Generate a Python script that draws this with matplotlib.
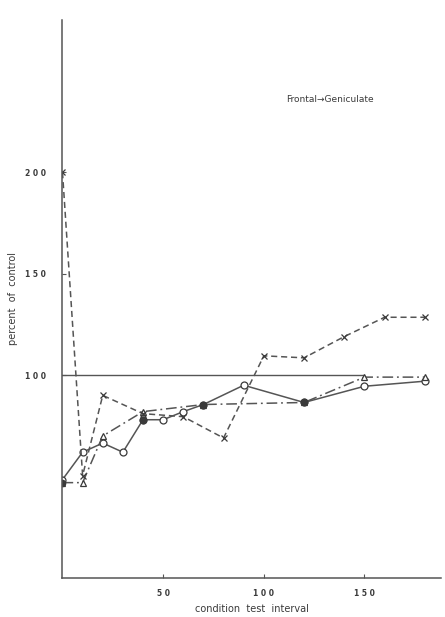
import numpy as np
import matplotlib
matplotlib.use("Agg")
import matplotlib.pyplot as plt

# condition-test interval vs percent of control
circ_x = [0, 10, 20, 30, 40, 50, 60, 70, 90, 120, 150, 180]
circ_y = [48.5, 62, 66.5, 62, 78, 78, 82, 85.5, 95, 86.5, 94.5, 97]

tri_x = [0, 10, 20, 40, 70, 120, 150, 180]
tri_y = [47, 47, 70, 82, 85.5, 86.5, 99, 99]

cross_x = [0, 10, 20, 40, 60, 80, 100, 120, 140, 160, 180]
cross_y = [200, 50.5, 90, 81, 79.5, 69, 109.5, 108.5, 119, 128.5, 128.5]

# points where circle and triangle curves coincide (drawn filled)
shared_x = [0, 40, 70, 120]
shared_y = [47, 78, 85.5, 86.5]

xticks = [50, 100, 150]
yticks = [100, 150, 200]

ink = "#3a3a3a"
line = "#555555"

fig = plt.figure(figsize=(4.45, 6.17), dpi=100)
ax = fig.add_axes([0.1404, 0.0632, 0.8506, 0.9044])

ax.plot([0, 150], [100, 100], color=line, lw=1.0)

ax.plot(circ_x, circ_y, color=line, lw=1.1, ls="-", marker="o", ms=5,
        mfc="white", mec=ink, mew=0.9)
ax.plot(tri_x, tri_y, color=line, lw=1.1, ls=(0, (7, 2.5, 1.2, 2.5)), marker="^", ms=4,
        mfc="white", mec=ink, mew=0.9)
ax.plot(cross_x, cross_y, color=line, lw=1.1, ls=(0, (4, 2.5)), marker="x", ms=4,
        mec=ink, mew=0.9)
ax.plot(shared_x, shared_y, ls="none", marker="o", ms=4.5, mfc=ink, mec=ink)

ax.set_xlim(0, 188)
ax.set_ylim(0, 275)
ax.spines["top"].set_visible(False)
ax.spines["right"].set_visible(False)
for s in ["left", "bottom"]:
    ax.spines[s].set_color(line)
    ax.spines[s].set_linewidth(1.1)

ax.set_xticks(xticks)
ax.set_yticks(yticks)
ax.set_xticklabels([" ".join(str(t)) for t in xticks], fontsize=5.5,
                   fontweight="bold", color=ink)
ax.set_yticklabels([" ".join(str(t)) for t in yticks], fontsize=5.5,
                   fontweight="bold", color=ink)
ax.tick_params(axis="both", direction="in", length=3, width=0.8, color=line)
ax.tick_params(axis="x", pad=8)
ax.tick_params(axis="y", pad=12)

ax.set_xlabel("condition  test  interval", fontsize=7, color=ink, labelpad=4)
ax.set_ylabel("percent  of  control", fontsize=7, color=ink, labelpad=5)

ax.text(111, 236, "Frontal\u2192Geniculate", fontsize=6.5, color=ink,
        va="center", ha="left")

fig.savefig("out.png", dpi=100, facecolor="white")
